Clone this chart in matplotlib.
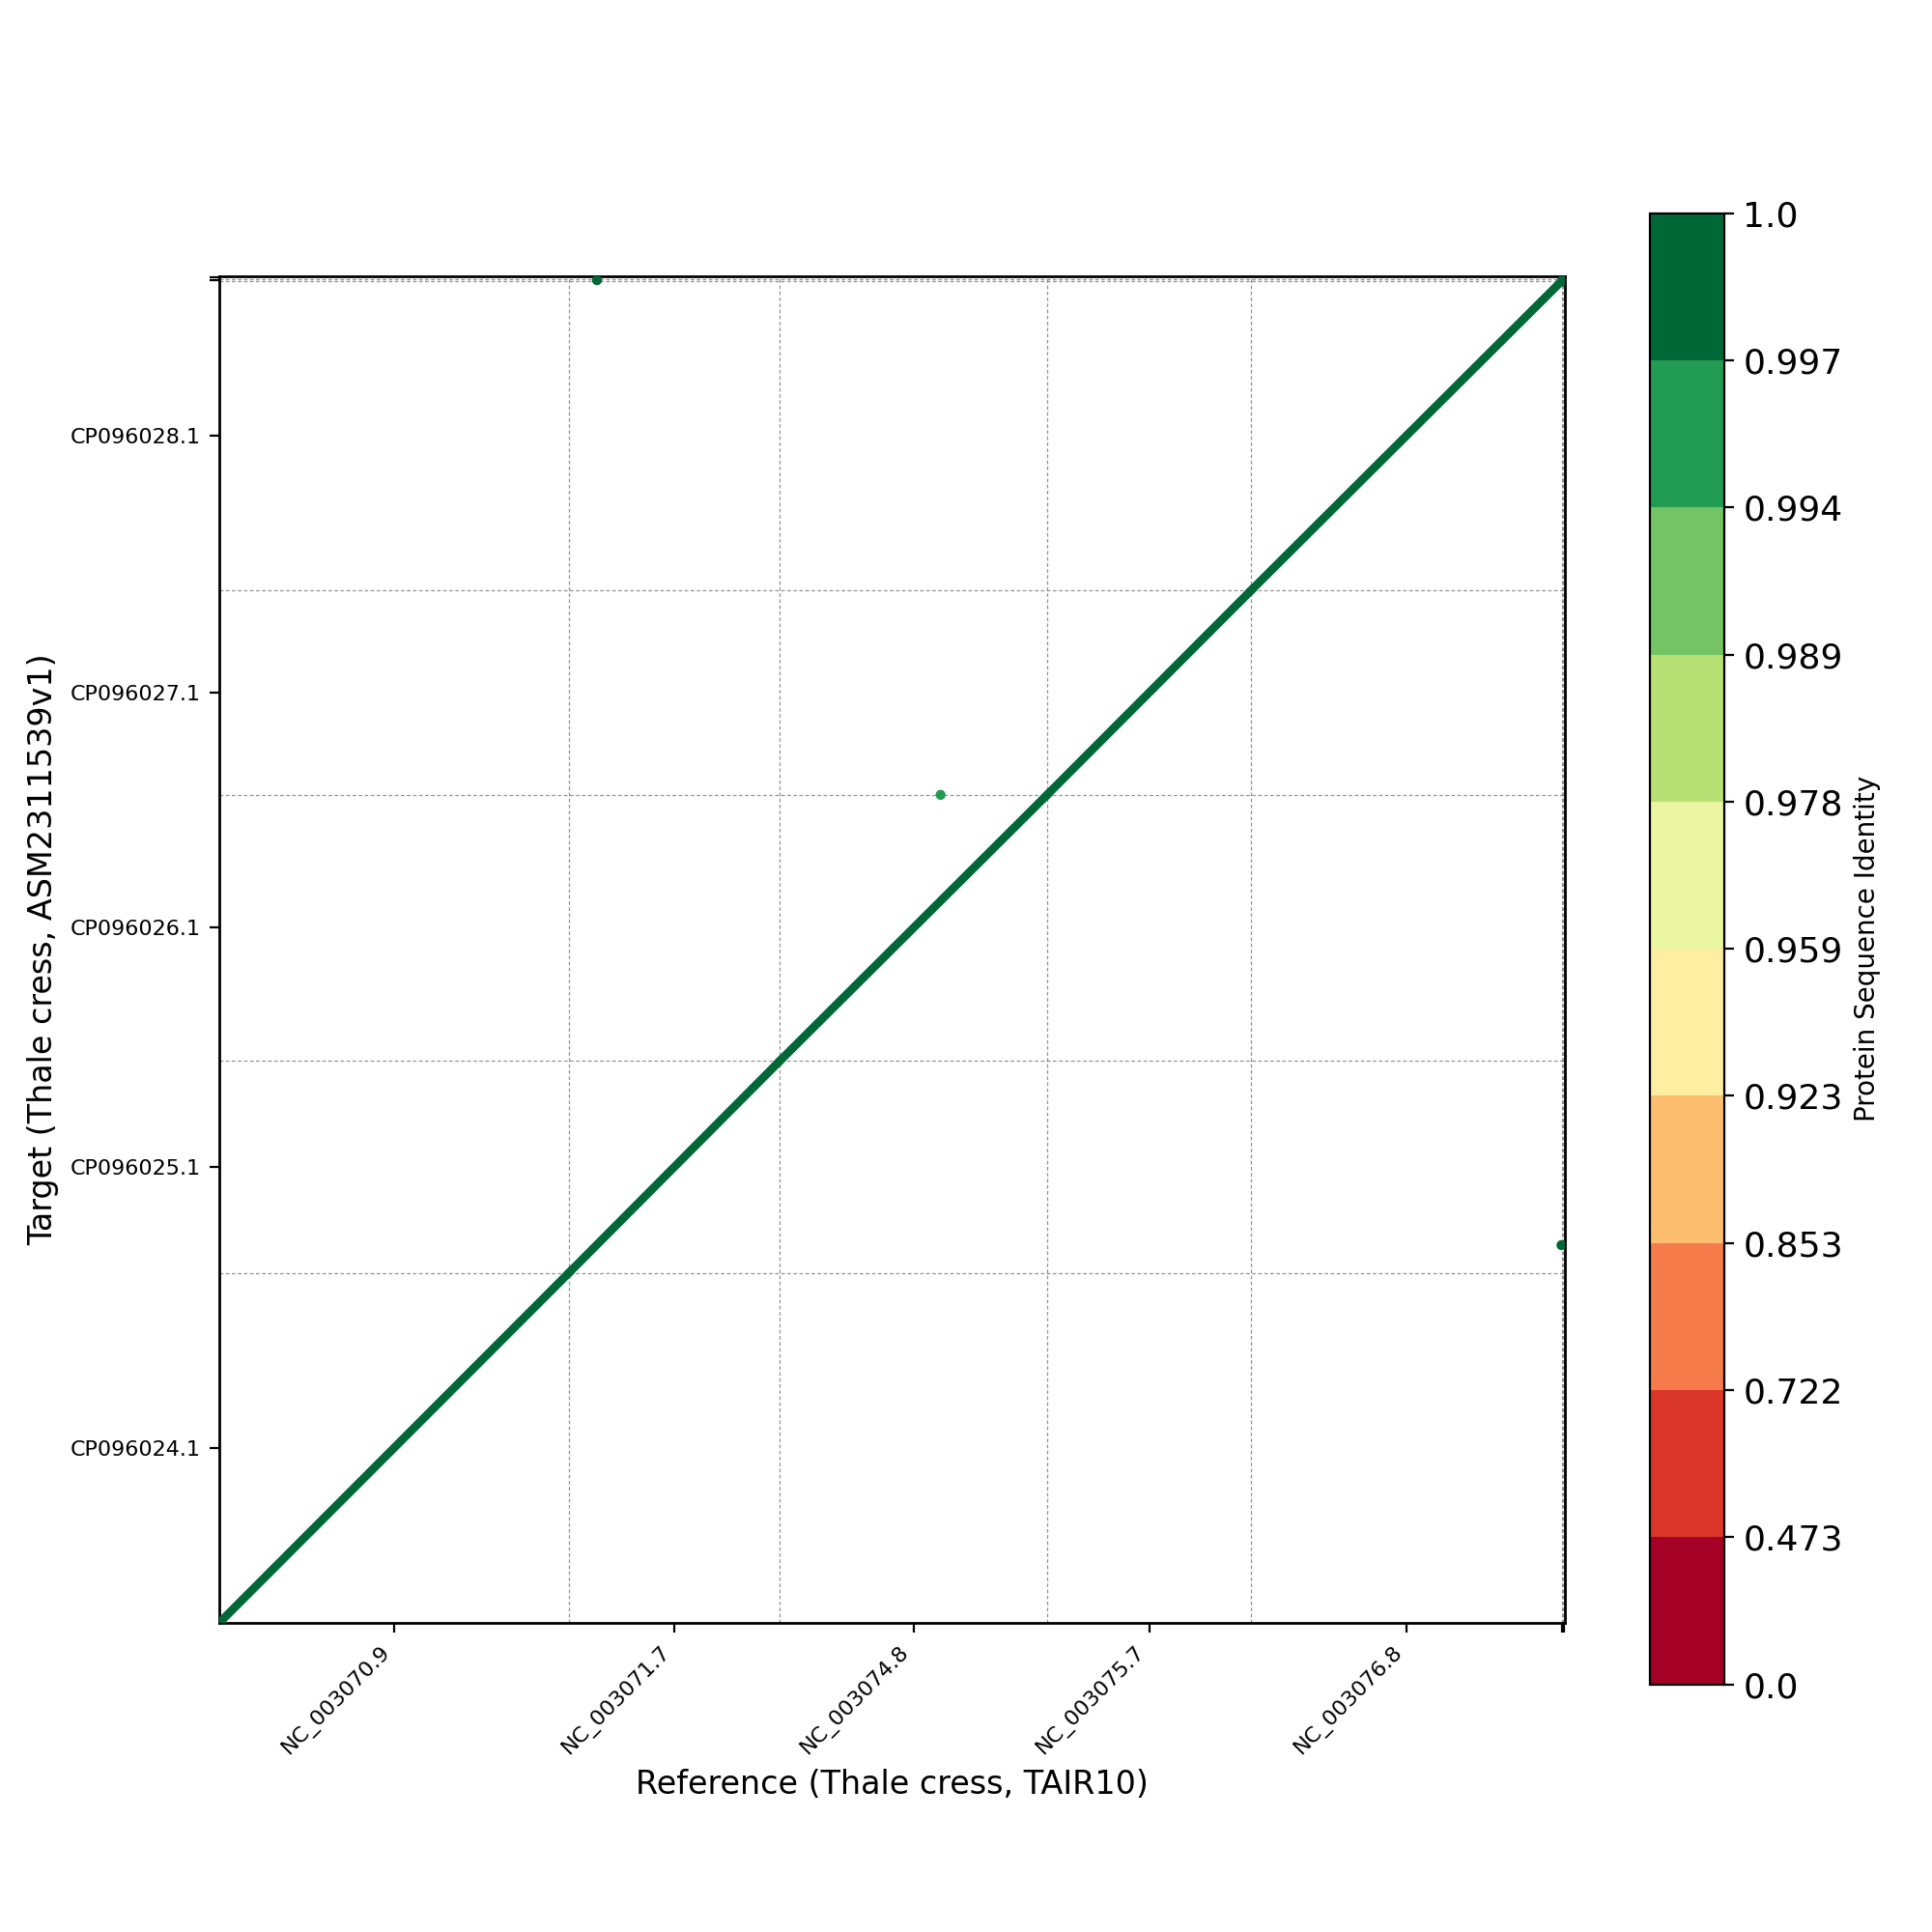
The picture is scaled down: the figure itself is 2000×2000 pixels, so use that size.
import numpy as np
import matplotlib
matplotlib.use("Agg")
import matplotlib.pyplot as plt
from matplotlib.colors import BoundaryNorm

# ---------------- data ----------------
ref_labels = ["NC_003070.9", "NC_003071.7", "NC_003074.8", "NC_003075.7", "NC_003076.8", "", ""]
ref_sizes = [7147, 4312, 5459, 4174, 6339, 28, 41]          # genes per chromosome (reference)
tgt_labels = ["CP096024.1", "CP096025.1", "CP096026.1", "CP096027.1", "CP096028.1", "", ""]
tgt_sizes = [7150, 4330, 5430, 4180, 6310, 50, 50]          # genes per chromosome (target)

# syntenic diagonal blocks, one per chromosome pair, with mean identity
block_identity = [0.9995, 0.9995, 0.9995, 0.9995, 0.9995, 0.9995, 0.9995]

# off-diagonal matches
out_x = [7719, 14741, 27430]
out_y = [27420, 16910, 7714]
out_identity = [0.9995, 0.995, 0.9995]

cbar_bounds = [0.0, 0.473, 0.722, 0.853, 0.923, 0.959, 0.978, 0.989, 0.994, 0.997, 1.0]
cbar_ticklabels = ["0.0", "0.473", "0.722", "0.853", "0.923", "0.959", "0.978", "0.989", "0.994", "0.997", "1.0"]

# ---------------- plot ----------------
cmap = matplotlib.colormaps["RdYlGn"].resampled(len(cbar_bounds) - 1)
norm = BoundaryNorm(cbar_bounds, cmap.N)

fig = plt.figure(figsize=(10, 10), dpi=200)
ax = fig.add_axes([0.1135, 0.16, 0.6965, 0.697])

ref_edges = np.concatenate([[0], np.cumsum(ref_sizes)])
tgt_edges = np.concatenate([[0], np.cumsum(tgt_sizes)])
ref_centers = (ref_edges[:-1] + ref_edges[1:]) / 2
tgt_centers = (tgt_edges[:-1] + tgt_edges[1:]) / 2

# chromosome boundary grid
for e in ref_edges[1:-1]:
    ax.axvline(e, color="#7a7a7a", ls=(0, (3, 2)), lw=0.45, alpha=0.8, zorder=1)
for e in tgt_edges[1:-1]:
    ax.axhline(e, color="#7a7a7a", ls=(0, (3, 2)), lw=0.45, alpha=0.8, zorder=1)

# diagonal synteny
for i, ident in enumerate(block_identity):
    ax.plot([ref_edges[i], ref_edges[i + 1]], [tgt_edges[i], tgt_edges[i + 1]],
            color=cmap(norm(ident)), lw=3.1, solid_capstyle="projecting", zorder=3)

ax.scatter(out_x, out_y, c=out_identity, cmap=cmap, norm=norm, s=14, linewidths=0, zorder=4)

ax.set_xlim(0, ref_edges[-1])
ax.set_ylim(0, tgt_edges[-1])
ax.set_xticks(ref_centers)
ax.set_xticklabels(ref_labels, rotation=45, ha="right", fontsize=8)
ax.set_yticks(tgt_centers)
ax.set_yticklabels(tgt_labels, fontsize=8)
ax.set_xlabel("Reference (Thale cress, TAIR10)", fontsize=12)
ax.set_ylabel("Target (Thale cress, ASM2311539v1)", fontsize=12)
for sp in ax.spines.values():
    sp.set_linewidth(1.0)

cax = fig.add_axes([0.8542, 0.1282, 0.0383, 0.7615])
sm = matplotlib.cm.ScalarMappable(norm=norm, cmap=cmap)
cb = fig.colorbar(sm, cax=cax, ticks=cbar_bounds)
cb.ax.set_yticklabels(cbar_ticklabels, fontsize=13)
cb.set_label("Protein Sequence Identity", fontsize=10)

fig.savefig("out.png", dpi=200)
